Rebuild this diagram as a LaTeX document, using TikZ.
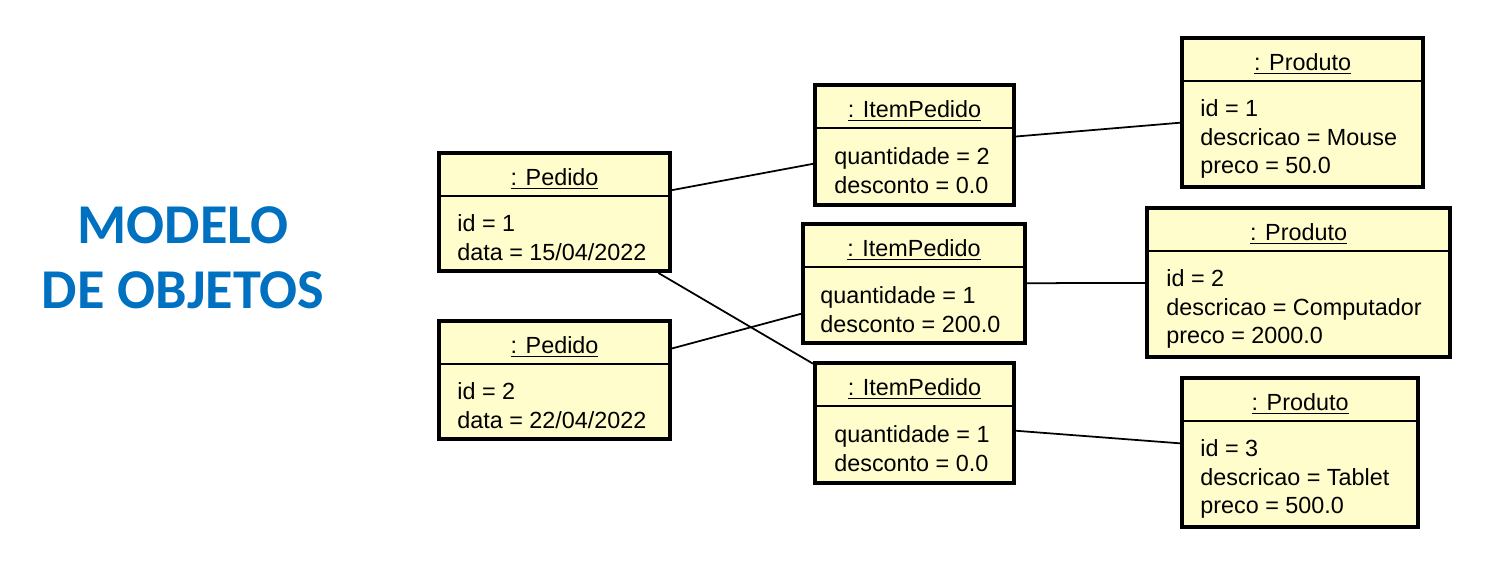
\documentclass[tikz,border=0pt]{standalone}
\usepackage{fontspec}
\setmainfont{Liberation Sans}
\newfontfamily\headfont{Carlito}
\usepackage{tikz}
\usetikzlibrary{positioning,calc}
\definecolor{objyellow}{HTML}{FFFDCC}
\definecolor{headblue}{HTML}{0070C0}

\begin{document}
\begin{tikzpicture}[
  x=0.02cm, y=-0.02cm,
  objbox/.style={
    draw=black, line width=2.3pt, fill=objyellow, inner sep=0pt
  },
  objname/.style={font=\fontsize{13.3}{16}\selectfont, inner sep=0pt},
  attrs/.style={
    font=\fontsize{13.3}{16.4}\selectfont, align=left, anchor=west, inner sep=0pt
  },
  divider/.style={line width=1.1pt},
  link/.style={line width=1pt},
  heading/.style={
    font=\headfont\bfseries\fontsize{32}{37}\selectfont, text=headblue, align=center
  }
]
\useasboundingbox (0,0) rectangle (1500,563);

% Titulo
\node[heading] (titulo) at (183,258) {MODELO\\DE OBJETOS};

% Pedidos
\node[objbox, minimum width=4.62cm, minimum height=2.36cm] (ped1) at (554.5,212) {};
\node[objbox, minimum width=4.62cm, minimum height=2.36cm] (ped2) at (554.5,380) {};

% Itens
\node[objbox, minimum width=3.98cm, minimum height=2.4cm] (item1) at (914.5,145) {};
\node[objbox, minimum width=4.44cm, minimum height=2.38cm] (item2) at (914,283.5) {};
\node[objbox, minimum width=3.98cm, minimum height=2.4cm] (item3) at (914.5,423) {};

% Produtos
\node[objbox, minimum width=4.82cm, minimum height=2.98cm] (prod1) at (1302.5,112.5) {};
\node[objbox, minimum width=6.06cm, minimum height=2.98cm] (prod2) at (1298.5,282.5) {};
\node[objbox, minimum width=4.72cm, minimum height=2.98cm] (prod3) at (1300,452.5) {};

% Divisorias e nomes
\foreach \obj/\cls in {ped1/Pedido, ped2/Pedido, item1/ItemPedido, item2/ItemPedido,
    item3/ItemPedido, prod1/Produto, prod2/Produto, prod3/Produto} {
  \draw[divider] ($(\obj.north west)+(0,45)$) -- ($(\obj.north east)+(0,45)$);
  \node[objname] (\obj-name) at ($(\obj.north)+(0,28)$) {\underline{: \cls}};
}

% Atributos
\node[attrs] (ped1-attr) at ($(ped1.north west)+(20,87)$) {id = 1\\data = 15/04/2022};
\node[attrs] (ped2-attr) at ($(ped2.north west)+(20,87)$) {id = 2\\data = 22/04/2022};
\node[attrs] (item1-attr) at ($(item1.north west)+(21,88)$) {quantidade = 2\\desconto = 0.0};
\node[attrs] (item2-attr) at ($(item2.north west)+(19,88)$) {quantidade = 1\\desconto = 200.0};
\node[attrs] (item3-attr) at ($(item3.north west)+(21,88)$) {quantidade = 1\\desconto = 0.0};
\node[attrs] (prod1-attr) at ($(prod1.north west)+(20,103)$) {id = 1\\descricao = Mouse\\preco = 50.0};
\node[attrs] (prod2-attr) at ($(prod2.north west)+(21,103)$) {id = 2\\descricao = Computador\\preco = 2000.0};
\node[attrs] (prod3-attr) at ($(prod3.north west)+(20,103)$) {id = 3\\descricao = Tablet\\preco = 500.0};

% Ligacoes
\draw[link] (ped1) -- (item1);
\draw[link] (ped1) -- (item3);
\draw[link] (ped2) -- (item2);
\draw[link] (item1) -- (prod1);
\draw[link] (item2) -- (prod2);
\draw[link] (item3) -- (prod3);
\end{tikzpicture}
\end{document}
